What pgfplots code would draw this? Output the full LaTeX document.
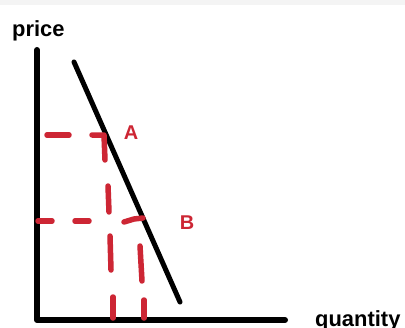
\documentclass[border=0pt]{standalone}
\usepackage{pgfplots}
\pgfplotsset{compat=1.18}
\usepackage{fontspec}
\setmainfont{Liberation Sans}
\definecolor{sketchred}{RGB}{205,38,52}
\definecolor{bandgray}{RGB}{244,244,244}
\begin{document}
\begin{tikzpicture}
\useasboundingbox (0,0) rectangle (405bp,328bp);
\begin{axis}[scale only axis,width=405bp,height=328bp,
xmin=0,xmax=405,ymin=0,ymax=328,y dir=reverse,hide axis,clip=false,
every axis plot/.append style={line cap=round,line join=round}]
% page background and the faint band at the top
\addplot[fill=white,draw=none] coordinates {(0,0) (405,0) (405,328) (0,328)} -- cycle;
\addplot[fill=bandgray,draw=none] coordinates {(0,0) (405,0) (405,5) (0,5)} -- cycle;
% axes
\addplot[black,line width=6bp] coordinates {(37,50) (37,320) (285,320)};
% demand curve
\addplot[black,line width=5bp] coordinates {(74,62) (180,302)};
% dashed guides to A
\addplot[sketchred,line width=5.5bp] coordinates {(47,135) (69,135)};
\addplot[sketchred,line width=5.5bp] coordinates {(92,135) (104,135) (105,160)};
\addplot[sketchred,line width=5.5bp] coordinates {(108,186) (109,212)};
\addplot[sketchred,line width=5.5bp] coordinates {(110,236) (111,270)};
\addplot[sketchred,line width=5.5bp] coordinates {(113,297) (113,318)};
% dashed guides to B
\addplot[sketchred,line width=5.5bp] coordinates {(38,221) (52,221)};
\addplot[sketchred,line width=5.5bp] coordinates {(75,221) (89,221)};
\addplot[sketchred,line width=5.5bp] coordinates {(124,222) (134,219) (143,218)};
\addplot[sketchred,line width=5.5bp] coordinates {(140,246) (142,281)};
\addplot[sketchred,line width=5.5bp] coordinates {(144,300) (144,318)};
% labels
\node[font=\fontsize{22}{22}\selectfont\bfseries,anchor=base west,inner sep=0pt] at (axis cs:12,37) {price};
\node[font=\fontsize{22}{22}\selectfont\bfseries,anchor=base west,inner sep=0pt] at (axis cs:315,326) {quantity};
\node[font=\fontsize{20}{20}\selectfont\bfseries,text=sketchred,inner sep=0pt] at (axis cs:131,133) {A};
\node[font=\fontsize{20}{20}\selectfont\bfseries,text=sketchred,inner sep=0pt] at (axis cs:187,222.5) {B};
\end{axis}
\end{tikzpicture}
\end{document}
